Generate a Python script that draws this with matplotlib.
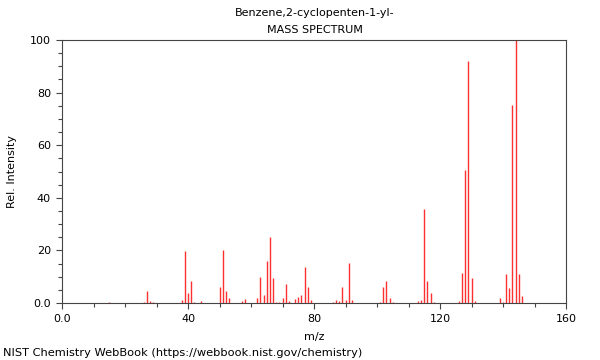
import matplotlib
matplotlib.use("Agg")
import matplotlib.pyplot as plt
from matplotlib.ticker import MultipleLocator, FixedLocator

# Mass spectrum peaks (m/z, relative intensity)
mz = [15, 26, 27, 28, 29, 38, 39, 40, 41, 42, 44,
      50, 51, 52, 53, 57, 58, 62, 63, 64, 65, 66, 67, 68, 69, 70, 71, 72,
      74, 75, 76, 77, 78, 79, 86, 87, 88, 89, 90, 91, 92,
      101, 102, 103, 104, 105, 113, 114, 115, 116, 117, 118,
      126, 127, 128, 129, 130, 131, 139, 140, 141, 142, 143, 144, 145, 146]
intensity = [0.2, 0.5, 4.7, 0.9, 0.3, 1.3, 19.6, 3.8, 8.4, 0.5, 0.6,
             6.1, 20.2, 4.6, 2.0, 0.6, 1.4, 2.0, 9.9, 3.0, 15.8, 25.2, 9.4, 0.4, 0.4, 1.9, 7.2, 0.8,
             1.5, 2.3, 3.0, 13.7, 6.1, 1.1, 0.5, 1.0, 0.8, 6.1, 1.0, 15.2, 1.1,
             0.5, 6.2, 8.4, 2.0, 0.5, 0.9, 1.2, 35.8, 8.5, 3.9, 0.4,
             0.9, 11.5, 50.7, 92.1, 9.6, 0.6, 2.0, 0.5, 11.0, 5.7, 75.3, 100.0, 11.0, 2.5]

x_ticks = [0, 40, 80, 120, 160]
x_labels = ["0.0", "40", "80", "120", "160"]
y_ticks = [0, 20, 40, 60, 80, 100]
y_labels = ["0.0", "20", "40", "60", "80", "100"]

fig = plt.figure(figsize=(6, 3.6), dpi=100)
ax = fig.add_axes([62/600, 1-303/360, (566-62)/600, (303-40)/360])

ax.vlines(mz, 0, intensity, colors="#ff3030", linewidth=1.0)

ax.set_xlim(0, 160)
ax.set_ylim(0, 100)
ax.xaxis.set_major_locator(FixedLocator(x_ticks))
ax.set_xticklabels(x_labels)
ax.yaxis.set_major_locator(FixedLocator(y_ticks))
ax.set_yticklabels(y_labels)
ax.xaxis.set_minor_locator(MultipleLocator(10))
ax.yaxis.set_minor_locator(MultipleLocator(5))
ax.tick_params(which="both", labelsize=8, color="#444444", width=0.8)
ax.tick_params(which="major", length=4.5)
ax.tick_params(which="minor", length=3)
for s in ax.spines.values():
    s.set_color("#444444")
    s.set_linewidth(0.8)

ax.set_xlabel("m/z", fontsize=8, labelpad=6)
ax.set_ylabel("Rel. Intensity", fontsize=8, labelpad=9)

fig.text(0.525, 1-13/360, "Benzene,2-cyclopenten-1-yl-", ha="center", va="center", fontsize=8)
fig.text(0.525, 1-30/360, "MASS SPECTRUM", ha="center", va="center", fontsize=8)
fig.text(3/600, 1-353/360, "NIST Chemistry WebBook (https://webbook.nist.gov/chemistry)",
         ha="left", va="center", fontsize=8.2)

fig.savefig("out.png", dpi=100)
